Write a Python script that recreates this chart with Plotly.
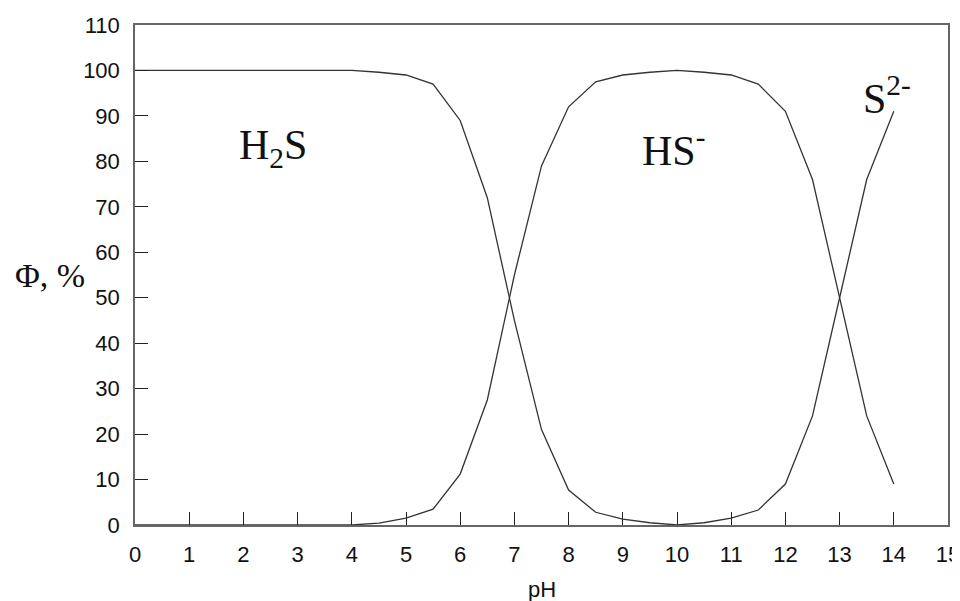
import plotly.graph_objects as go

# pH grid (0.5 steps) and fractions
ph_h2s = [0, 0.5, 1, 1.5, 2, 2.5, 3, 3.5, 4, 4.5, 5, 5.5, 6, 6.5, 7, 7.5, 8, 8.5, 9, 9.5, 10]
h2s = [100, 100, 100, 100, 100, 100, 100, 100, 100, 99.6, 99, 97, 89, 72, 45, 21, 7.7, 2.8, 1.3, 0.5, 0]

ph_hs = [0, 0.5, 1, 1.5, 2, 2.5, 3, 3.5, 4, 4.5, 5, 5.5, 6, 6.5, 7, 7.5, 8, 8.5, 9, 9.5, 10,
         10.5, 11, 11.5, 12, 12.5, 13, 13.5, 14]
hs = [0, 0, 0, 0, 0, 0, 0, 0, 0, 0.4, 1.5, 3.5, 11.2, 27.5, 55, 79, 92, 97.5, 99, 99.6, 100,
      99.6, 99, 97, 91, 76, 50, 24, 9]

ph_s2 = [10, 10.5, 11, 11.5, 12, 12.5, 13, 13.5, 14]
s2 = [0, 0.5, 1.5, 3.3, 9, 24, 50, 76, 91]

line = dict(color="#333333", width=1.3)

fig = go.Figure()
fig.add_trace(go.Scatter(x=ph_h2s, y=h2s, mode="lines", line=line, name="H2S"))
fig.add_trace(go.Scatter(x=ph_hs, y=hs, mode="lines", line=line, name="HS-"))
fig.add_trace(go.Scatter(x=ph_s2, y=s2, mode="lines", line=line, name="S2-"))

serif = "Liberation Serif, Times New Roman, serif"
lab = dict(family=serif, size=42, color="#111111")
fig.add_annotation(x=2.55, y=83, text="H<sub>2</sub>S", showarrow=False, font=lab,
                   xanchor="center", yanchor="middle")
fig.add_annotation(x=9.95, y=83, text="HS<sup>-</sup>", showarrow=False, font=lab,
                   xanchor="center", yanchor="middle")
fig.add_annotation(x=13.87, y=94.5, text="S<sup>2-</sup>", showarrow=False, font=lab,
                   xanchor="center", yanchor="middle")

fig.add_annotation(xref="paper", yref="paper", x=-0.104, y=0.50, text="Φ, %",
                   xanchor="center", yanchor="middle",
                   showarrow=False, font=dict(family=serif, size=34, color="#111111"))
fig.add_annotation(xref="paper", yref="paper", x=0.5, y=-0.128, text="pH",
                   xanchor="center", yanchor="middle",
                   showarrow=False, font=dict(family="Liberation Sans, Arial", size=22, color="#111111"))

axis = dict(showgrid=False, zeroline=False, showline=True, linecolor="#666666", linewidth=1.5,
            mirror=True, ticks="inside", ticklen=13, tickcolor="#222222", tickwidth=1,
            automargin=False, ticklabeloverflow="allow",
            tickfont=dict(family="Liberation Sans, Arial", size=22, color="#111111"))

fig.update_xaxes(axis, range=[0, 15], dtick=1, tick0=0, ticklabelstandoff=9)
fig.update_yaxes(axis, range=[0, 110], dtick=10, tick0=0, ticklabelstandoff=9)

# page body has an 8px margin, so the figure is shrunk by that much
fig.update_layout(width=952, height=593, margin=dict(l=127, r=12, t=17, b=76),
                  plot_bgcolor="white", paper_bgcolor="white", showlegend=False)

fig.write_html("out.html", post_script="document.body.style.overflow='hidden';")
